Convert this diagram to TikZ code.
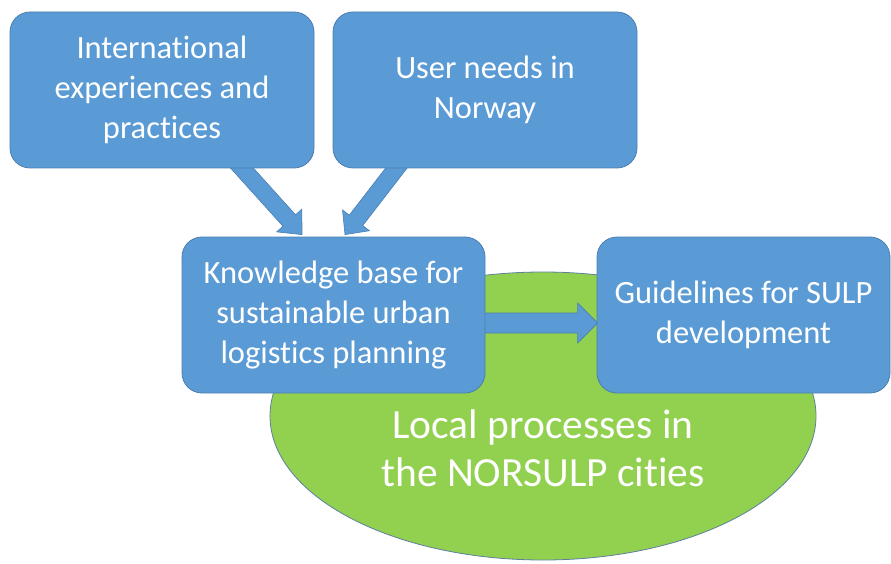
\documentclass[tikz,border=0pt]{standalone}
\usepackage{fontspec}
\setmainfont{Carlito}[Ligatures=NoCommon]
\usetikzlibrary{calc,shapes.geometric}
\definecolor{boxblue}{HTML}{5B9BD5}
\definecolor{boxedge}{HTML}{4A7EB0}
\definecolor{lgreen}{HTML}{92D050}
\definecolor{elledge}{HTML}{5F7F9F}
\pgfdeclarelayer{ellipselayer}
\pgfdeclarelayer{arrowlayer}
\pgfsetlayers{ellipselayer,arrowlayer,main}
\tikzset{
  bluebox/.style={draw=boxedge, line width=0.8pt, fill=boxblue, rounded corners=20pt,
    text=white, align=center, inner sep=0pt, font=\fontsize{32.5}{40}\selectfont},
  greenellipse/.style={ellipse, draw=elledge, line width=0.8pt, fill=lgreen, inner sep=0pt,
    minimum width=546pt, minimum height=288pt},
  ellipsetext/.style={text=white, align=center, font=\fontsize{41.5}{48}\selectfont},
  arrowstyle/.style={fill=boxblue, draw=boxedge, line width=0.6pt, line join=miter}
}
% #1 start, #2 tip, #3 shaft half width, #4 head half width, #5 head length
\newcommand\drawblockarrow[5]{%
  \coordinate (hb) at ($(#2)!#5!(#1)$);
  \path[arrowstyle] ($(#1)!#3!90:(#2)$) -- ($(hb)!#3!90:(#2)$) -- ($(hb)!#4!90:(#2)$)
    -- (#2) -- ($(hb)!#4!-90:(#2)$) -- ($(hb)!#3!-90:(#2)$) -- ($(#1)!#3!-90:(#2)$) -- cycle;
}
\begin{document}
\begin{tikzpicture}[x=1pt, y=-1pt]
\useasboundingbox (0,0) rectangle (891,564);
% boxes
\node[bluebox, minimum width=304pt, minimum height=156pt] (intl) at (162,90)
  {International\\experiences and\\practices};
\node[bluebox, minimum width=304pt, minimum height=156pt] (user) at (485,90)
  {User needs in\\Norway};
\node[bluebox, minimum width=303pt, minimum height=156pt] (kb) at (333.5,315)
  {Knowledge base for\\sustainable urban\\logistics planning};
\node[bluebox, minimum width=293pt, minimum height=156pt] (gl) at (743.5,315)
  {Guidelines for SULP\\development};
% ellipse
\begin{pgfonlayer}{ellipselayer}
\node[greenellipse] (local) at (543,416) {};
\end{pgfonlayer}
\node[ellipsetext] (localtext) at ($(local.center)+(0,32)$)
  {Local processes in\\the NORSULP cities};
% arrows
\begin{pgfonlayer}{arrowlayer}
\coordinate (a1s) at ($(intl.south)+(64,-18)$);
\coordinate (a1t) at ($(kb.north)+(-31.5,-2)$);
\coordinate (a2s) at ($(user.south)+(-75,-18)$);
\coordinate (a2t) at ($(kb.north)+(11.5,-2)$);
\coordinate (a3s) at ($(kb.east)+(-6,8)$);
\coordinate (a3t) at ($(gl.west)+(1,8)$);
\drawblockarrow{a1s}{a1t}{8.5pt}{17pt}{19pt}
\drawblockarrow{a2s}{a2t}{8.5pt}{17pt}{18pt}
\drawblockarrow{a3s}{a3t}{10pt}{20pt}{20pt}
\end{pgfonlayer}
\end{tikzpicture}
\end{document}
